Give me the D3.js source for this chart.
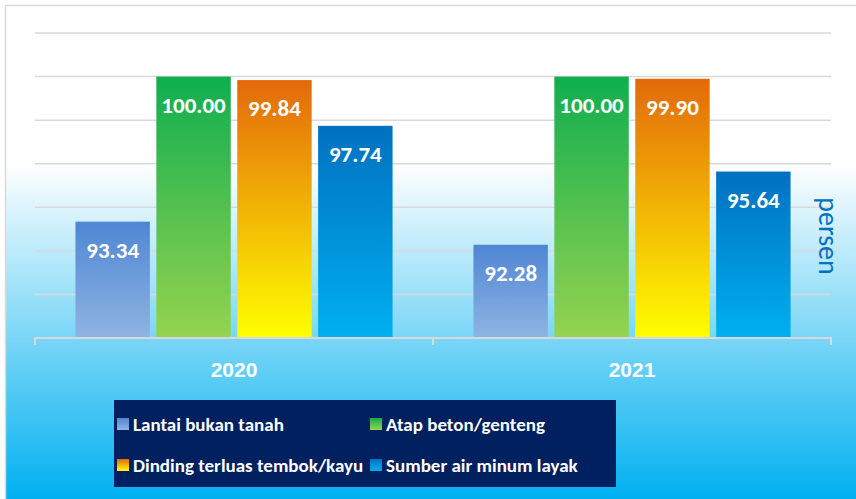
<!DOCTYPE html>
<html>
<head>
<meta charset="utf-8">
<script src="https://cdn.jsdelivr.net/npm/d3@7"></script>
<style>
  body { margin: 0; background: #fff; }
  svg { display: block; font-family: Carlito, Calibri, Lato, sans-serif; }
</style>
</head>
<body>
<svg width="856" height="499"></svg>
<script>
// data
var years = ["2020", "2021"];
var seriesNames = ["Lantai bukan tanah", "Atap beton/genteng", "Dinding terluas tembok/kayu", "Sumber air minum layak"];
var lantai  = [93.34, 92.28];
var atap    = [100.00, 100.00];
var dinding = [99.84, 99.90];
var sumber  = [97.74, 95.64];
var yTicks  = [88, 90, 92, 94, 96, 98, 100, 102];

var values = [lantai, atap, dinding, sumber];
var gradColors = [
  ["#4f86d3", "#8fb4e3"],
  ["#0fae4f", "#96d34f"],
  ["#e3690b", "#ffff00"],
  ["#0070c0", "#00b0f0"]
];

var svg = d3.select("svg");
var W = 856, H = 499;
var plot = {left: 35, right: 831, top: 33, bottom: 338};

var defs = svg.append("defs");

// page background, white fading to blue
var bg = defs.append("linearGradient").attr("id", "bg")
  .attr("x1", 0).attr("y1", 0).attr("x2", 0).attr("y2", 1);
bg.append("stop").attr("offset", 0.32).attr("stop-color", "#ffffff");
bg.append("stop").attr("offset", 1).attr("stop-color", "#00b0f0");

gradColors.forEach(function(c, i) {
  var g = defs.append("linearGradient").attr("id", "g" + i)
    .attr("x1", 0).attr("y1", 0).attr("x2", 0).attr("y2", 1);
  g.append("stop").attr("offset", 0).attr("stop-color", c[0]);
  g.append("stop").attr("offset", 1).attr("stop-color", c[1]);
});

svg.append("rect").attr("x", 5).attr("y", 5).attr("width", W - 5).attr("height", H - 5)
  .attr("fill", "url(#bg)");
svg.append("path").attr("d", "M5.5," + H + "V5.5H" + W)
  .attr("fill", "none").attr("stroke", "#d9d9d9").attr("stroke-width", 1.5);

var x0 = d3.scaleBand().domain(years).range([plot.left, plot.right]);
var x1 = d3.scaleBand().domain(seriesNames).range([0, x0.bandwidth()])
  .paddingInner(0.08).paddingOuter(0.5);
var y = d3.scaleLinear().domain([88, 102]).range([plot.bottom, plot.top]);

// gridlines
svg.append("g")
  .selectAll("line")
  .data(yTicks.slice(1))
  .enter().append("line")
    .attr("x1", plot.left).attr("x2", plot.right)
    .attr("y1", function(d) { return y(d); })
    .attr("y2", function(d) { return y(d); })
    .attr("stroke", "#d9d9d9").attr("stroke-width", 1.5);

// bars
var groups = svg.append("g").selectAll("g")
  .data(years)
  .enter().append("g")
    .attr("transform", function(d) { return "translate(" + x0(d) + ",0)"; });

groups.selectAll("rect")
  .data(function(d, yi) {
    return seriesNames.map(function(s, si) { return {s: s, si: si, v: values[si][yi]}; });
  })
  .enter().append("rect")
    .attr("x", function(d) { return x1(d.s); })
    .attr("width", x1.bandwidth())
    .attr("y", function(d) { return y(d.v); })
    .attr("height", function(d) { return y(88) - y(d.v); })
    .attr("fill", function(d) { return "url(#g" + d.si + ")"; });

groups.selectAll("text")
  .data(function(d, yi) {
    return seriesNames.map(function(s, si) { return {s: s, v: values[si][yi]}; });
  })
  .enter().append("text")
    .attr("x", function(d) { return x1(d.s) + x1.bandwidth() / 2; })
    .attr("y", function(d) { return y(d.v) + 36; })
    .attr("text-anchor", "middle")
    .attr("fill", "#fff")
    .attr("font-weight", "bold")
    .attr("font-size", 23)
    .text(function(d) { return d.v.toFixed(2); });

// x axis
var xAxis = svg.append("g")
  .attr("transform", "translate(0," + plot.bottom + ")")
  .call(d3.axisBottom(x0).tickSize(0).tickPadding(24));
xAxis.select(".domain").attr("stroke", "#d9d9d9").attr("stroke-width", 2)
  .attr("d", "M" + plot.left + ",7V0H" + plot.right + "V7");
xAxis.selectAll("text")
  .attr("fill", "#fff").attr("font-size", 21).attr("font-weight", "bold")
  .attr("font-family", null);
xAxis.append("line")
  .attr("x1", x0("2021")).attr("x2", x0("2021"))
  .attr("y1", 0).attr("y2", 7)
  .attr("stroke", "#d9d9d9").attr("stroke-width", 2);

// axis title
svg.append("text")
  .attr("transform", "translate(819,236) rotate(90)")
  .attr("text-anchor", "middle")
  .attr("fill", "#0070c0")
  .attr("font-size", 28)
  .text("persen");

// legend
var legend = svg.append("g");
legend.append("rect")
  .attr("x", 114).attr("y", 400).attr("width", 502).attr("height", 87)
  .attr("fill", "#002060");

var legX = [117, 370], legY = [418, 459];
var items = legend.selectAll("g.item")
  .data(seriesNames)
  .enter().append("g").attr("class", "item")
    .attr("transform", function(d, i) {
      return "translate(" + legX[i % 2] + "," + legY[Math.floor(i / 2)] + ")";
    });
items.append("rect")
  .attr("width", 12).attr("height", 12)
  .attr("fill", function(d, i) { return "url(#g" + i + ")"; });
items.append("text")
  .attr("x", 16).attr("y", 12.5)
  .attr("fill", "#fff").attr("font-weight", "bold").attr("font-size", 19)
  .text(function(d) { return d; });
</script>
</body>
</html>
